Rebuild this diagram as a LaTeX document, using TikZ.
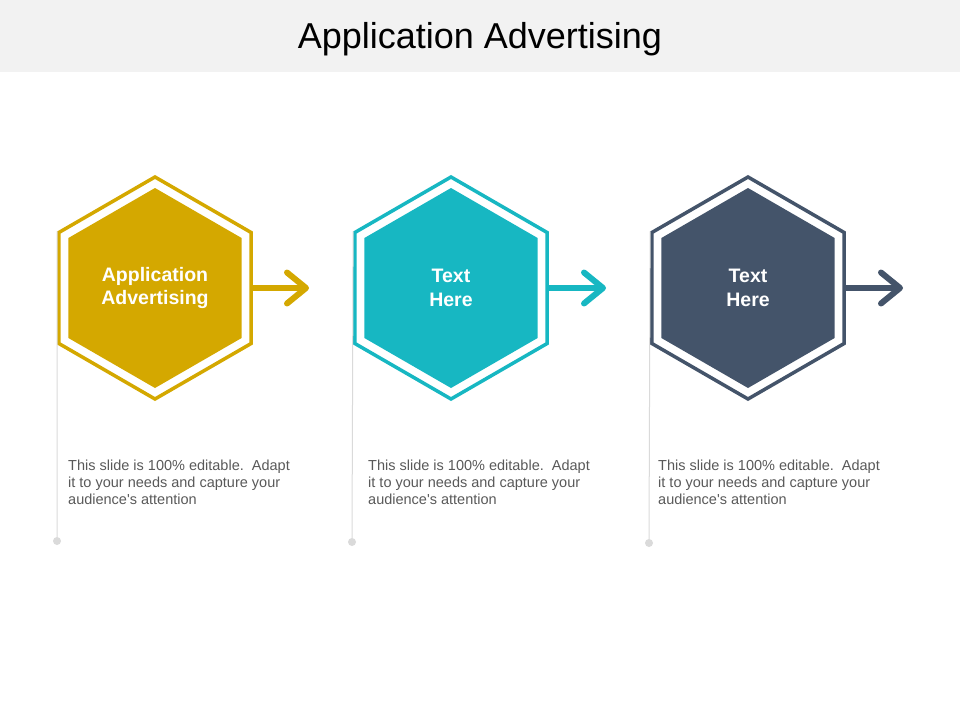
\documentclass[tikz,border=0pt]{standalone}
\usepackage{fontspec}
\setmainfont{Liberation Sans}
\usepackage{tikz}
\usetikzlibrary{arrows.meta,shapes.geometric}
\definecolor{gold}{HTML}{D4A800}
\definecolor{teal}{HTML}{17B7C2}
\definecolor{navy}{HTML}{44546A}
\definecolor{band}{HTML}{F2F2F2}
\definecolor{rule}{HTML}{DADADA}
\definecolor{body}{HTML}{595959}

\begin{document}
\begin{tikzpicture}[x=1pt,y=-1pt,
  hexout/.style={regular polygon,regular polygon sides=6,shape border rotate=30,minimum size=222pt,inner sep=0pt,line width=3.5pt,fill=white},
  hexin/.style={regular polygon,regular polygon sides=6,shape border rotate=30,minimum size=200pt,inner sep=0pt,text=white,align=center,font=\fontsize{19.5}{23.5}\selectfont\bfseries},
  arr/.style={line width=6pt,-{Straight Barb[length=19pt,width=31pt,round]}},
  note/.style={anchor=north west,inner sep=0pt,align=left,text=body,font=\fontsize{14.5}{17}\selectfont},
  dot/.style={circle,fill=rule,inner sep=0pt,minimum size=8pt}]
\useasboundingbox (0,0) rectangle (960,720);
\fill[band] (0,0) rectangle (960,72);
\node (title) at (480,39) [font=\fontsize{36}{40}\selectfont] {Application Advertising};
% hexagons
\node (O1) at (155,288)[hexout,draw=gold] {};
\node (O2) at (451,288)[hexout,draw=teal] {};
\node (O3) at (748,288)[hexout,draw=navy] {};
\node (C1) at (155,288)[hexin,fill=gold] {Application\\Advertising};
\node (C2) at (451,288)[hexin,fill=teal] {Text\\Here};
\node (C3) at (748,288)[hexin,fill=navy] {Text\\Here};
% arrows
\coordinate (T1) at (309,288);
\coordinate (T2) at (606,288);
\coordinate (T3) at (903,288);
\draw [arr,gold] (O1.east) -- (T1);
\draw [arr,teal] (O2.east) -- (T2);
\draw [arr,navy] (O3.east) -- (T3);
% rules and dots
\node (D1) at (57,541)[dot] {};
\node (D2) at (352,542)[dot] {};
\node (D3) at (649,543)[dot] {};
\draw [rule,line width=1pt] (O1.corner 2) -- (D1);
\draw [rule,line width=1pt] (O2.corner 2) -- (D2);
\draw [rule,line width=1pt] (O3.corner 2) -- (D3);
% notes
\node (N1) at (68,460)[note] {This slide is 100\% editable.\ \ Adapt\\it to your needs and capture your\\audience\textquotesingle s attention};
\node (N2) at (368,460)[note] {This slide is 100\% editable.\ \ Adapt\\it to your needs and capture your\\audience\textquotesingle s attention};
\node (N3) at (658,460)[note] {This slide is 100\% editable.\ \ Adapt\\it to your needs and capture your\\audience\textquotesingle s attention};
\end{tikzpicture}
\end{document}
